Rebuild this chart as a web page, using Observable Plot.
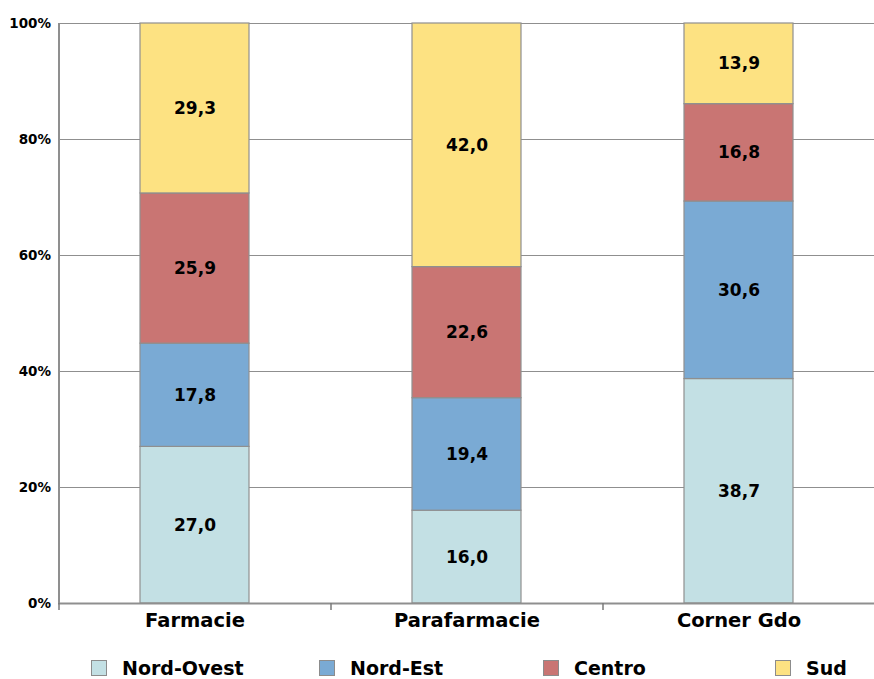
<!DOCTYPE html>
<html>
<head>
<meta charset="utf-8">
<script src="https://cdn.jsdelivr.net/npm/d3@7"></script>
<script src="https://cdn.jsdelivr.net/npm/@observablehq/plot@0.6"></script>
<style>
  html, body { margin: 0; padding: 0; background: #fff; }
  body { width: 874px; height: 679px; position: relative; overflow: hidden; font-family: "DejaVu Sans", sans-serif; }
  #chart svg { display: block; }
  #legend { position: absolute; left: 0; top: 657px; width: 874px; height: 26px; }
  .item { position: absolute; top: 0; display: flex; align-items: center; font-weight: bold; font-size: 19px; color: #000; }
  .sw { width: 14px; height: 14px; border: 1px solid #8c8c8c; margin-right: 15px; }
</style>
</head>
<body>
<div id="chart"></div>
<div id="legend"></div>
<script>
const categories = ["Farmacie", "Parafarmacie", "Corner Gdo"];
const regions = ["Nord-Ovest", "Nord-Est", "Centro", "Sud"];
const colors = ["#c3e0e4", "#7aaad4", "#c97573", "#fde282"];
const nordOvest = [27.0, 16.0, 38.7];
const nordEst = [17.8, 19.4, 30.6];
const centro = [25.9, 22.6, 16.8];
const sud = [29.3, 42.0, 13.9];
const yTicks = [0, 20, 40, 60, 80, 100];
const yTickLabels = ["0%", "20%", "40%", "60%", "80%", "100%"];

const series = [nordOvest, nordEst, centro, sud];
const data = [];
categories.forEach((c, i) => {
  regions.forEach((r, j) => data.push({ cat: c, region: r, value: series[j][i] }));
});

const fmt = v => v.toFixed(1).replace(".", ",");
const W = 874, H = 640, ML = 58, MT = 23, MB = 37;
const step = (W - ML) / 3;

const chart = Plot.plot({
  width: W,
  height: H,
  marginLeft: ML,
  marginRight: 0,
  marginTop: MT,
  marginBottom: MB,
  style: { fontFamily: "'DejaVu Sans', sans-serif", background: "#fff" },
  x: { domain: categories, paddingInner: 0.6, paddingOuter: 0.3, axis: null },
  y: { domain: [0, 100], axis: null },
  color: { domain: regions, range: colors },
  marks: [
    Plot.ruleY(yTicks.slice(1), { stroke: "#8f8f8f", strokeWidth: 1.2 }),
    Plot.barY(data, Plot.stackY({
      x: "cat", y: "value", fill: "region", order: regions,
      stroke: "#8f8f8f", strokeWidth: 1.2
    })),
    Plot.text(data, Plot.stackY({
      x: "cat", y: "value", z: "region", order: regions,
      text: d => fmt(d.value), fill: "#000", fontWeight: "bold", fontSize: 17
    })),
    Plot.ruleY([0], { stroke: "#8f8f8f", strokeWidth: 2 }),
    Plot.ruleX([0], { x: () => categories[0], dx: -step / 2, stroke: "#8f8f8f", strokeWidth: 2 }),
    Plot.ruleX(categories, { x: d => d, y1: 0, y2: 0, dx: -step / 2, insetBottom: -7, stroke: "#7a7a7a", strokeWidth: 1.5 }),
    Plot.text(yTicks, { x: () => categories[0], dx: -step / 2 - 8, y: d => d, text: (d, i) => yTickLabels[i], textAnchor: "end", fontWeight: "bold", fontSize: 13.5, fill: "#000" }),
    Plot.text(categories, { x: d => d, y: 0, dy: 17, text: d => d, fontWeight: "bold", fontSize: 19.5, fill: "#000" })
  ]
});
document.getElementById("chart").appendChild(chart);

const legendLefts = [91, 319, 543, 775];
const legend = document.getElementById("legend");
regions.forEach((r, i) => {
  const it = document.createElement("div");
  it.className = "item";
  it.style.left = legendLefts[i] + "px";
  const sw = document.createElement("div");
  sw.className = "sw";
  sw.style.background = colors[i];
  const t = document.createElement("span");
  t.textContent = r;
  it.appendChild(sw);
  it.appendChild(t);
  legend.appendChild(it);
});
</script>
</body>
</html>
